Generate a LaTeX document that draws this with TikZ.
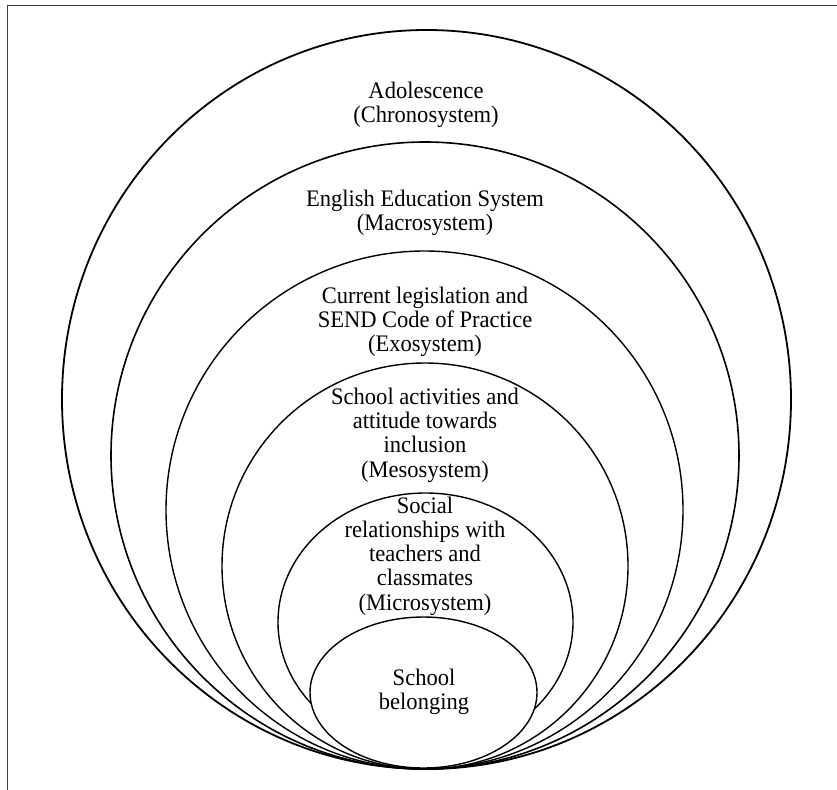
\documentclass[tikz,border=0pt]{standalone}
\usepackage{fontspec}
\setmainfont{Liberation Serif}[FakeStretch=0.95]
\begin{document}
\begin{tikzpicture}[x=1pt,y=-1pt,
  ring/.style={line width=1.4pt,draw=black},
  lbl/.style={align=center,inner sep=0pt,font=\fontsize{23.7}{24.3}\selectfont},
  frameline/.style={line width=1pt,draw=black!75}]
\useasboundingbox (0,0) rectangle (837,789);
\coordinate (fbl) at (7,795);
\coordinate (ftl) at (7,6);
\coordinate (ftr) at (845,6);
\draw[frameline] (fbl) -- (ftl) -- (ftr);
% nested ellipses, all touching at the bottom
\draw[ring,line width=1.8pt] (426.5,399.5) ellipse [x radius=364.5pt, y radius=369.5pt];
\draw[ring,line width=1.6pt] (425,455.5) ellipse [x radius=314pt, y radius=313.5pt];
\draw[ring] (424.5,510) ellipse [x radius=258.5pt, y radius=259pt];
\draw[ring] (425,566) ellipse [x radius=203pt, y radius=203pt];
\draw[ring] (425.5,622) ellipse [x radius=147.5pt, y radius=129pt];
\draw[ring,fill=white] (423.5,692.5) ellipse [x radius=113.5pt, y radius=75.5pt];
% labels
\node[lbl] (chrono) at (426,104.5) {Adolescence\\(Chronosystem)};
\node[lbl] (macro) at (425,213) {English Education System\\(Macrosystem)};
\node[lbl] (exo) at (425,322) {Current legislation and\\SEND Code of Practice\\(Exosystem)};
\node[lbl] (meso) at (425,435) {School activities and\\attitude towards\\inclusion\\(Mesosystem)};
\node[lbl] (micro) at (425,556) {Social\\relationships with\\teachers and\\classmates\\(Microsystem)};
\node[lbl] (belong) at (424,692) {School\\belonging};
\end{tikzpicture}
\end{document}
